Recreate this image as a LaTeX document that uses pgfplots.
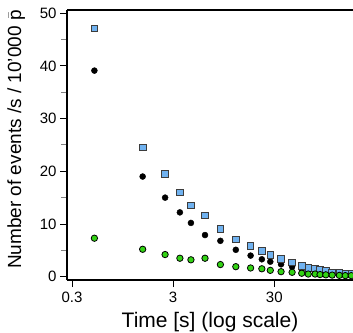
\documentclass[border=0pt]{standalone}
\usepackage{pgfplots}
\pgfplotsset{compat=1.18}
\usepackage{pgfplotstable}
\usepackage{fontspec}
\setmainfont{Liberation Sans}
\definecolor{sqblue}{RGB}{112,178,240}
\definecolor{dotgreen}{RGB}{50,210,20}
\definecolor{edgegray}{RGB}{60,60,60}
\pgfplotstableread{
x blue black green gerr
0.5 47.1 39.1 7.3 0.5
1.5 24.5 19.0 5.2 0.5
2.5 19.5 15.0 4.2 0.5
3.5 16.0 12.2 3.5 0.5
4.5 13.5 10.2 3.2 0.4
6.2 11.6 7.9 3.5 0.4
8.8 9.1 6.8 2.3 0.3
12.5 7.1 5.1 1.9 0.3
17.5 5.8 4.0 1.65 0.3
22.6 4.9 3.3 1.5 0.3
27.4 4.1 2.85 1.2 0.3
35 3.4 2.35 0.95 0.3
45 2.7 1.9 0.83 0.3
56 2.0 1.4 0.65 0.3
65 1.7 1.2 0.5 0.3
76 1.6 1.1 0.5 0.3
85 1.3 0.9 0.4 0.3
97 1.2 0.85 0.35 0.3
112 0.8 0.6 0.3 0.3
132 0.7 0.5 0.25 0.3
151 0.6 0.45 0.2 0.3
173 0.5 0.4 0.2 0.3
}\datatable
\begin{document}
\begin{tikzpicture}
\begin{axis}[
  name=ax,
  at={(0,0)}, anchor=south west,
  scale only axis,
  width=286pt, height=270pt,
  xmode=log,
  xmin=0.268, xmax=180,
  ymin=-0.63, ymax=50.6,
  axis x line*=bottom, axis y line*=left,
  axis line style={-, line width=1.4pt},
  xtick={0.3,3,30}, xticklabels={0.3,3,30},
  xminorticks=false,
  ytick={0,10,20,30,40,50},
  minor y tick num=1,
  tick align=outside,
  major tick length=7pt, minor tick length=6pt,
  major tick style={black, line width=0.9pt},
  minor tick style={gray, line width=0.9pt},
  /pgf/number format/assume math mode=true,
  tick label style={font=\fontsize{15}{18}\selectfont},
  xticklabel style={yshift=-1pt},
  xlabel={Time [s] (log scale)},
  ylabel={Number of events /s / 10'000 $\bar{\mathrm{p}}$},
  ylabel style={font=\fontsize{19}{23}\selectfont, at={(axis description cs:-0.178,0.52)}, anchor=center},
  xlabel style={font=\fontsize{21}{25}\selectfont, at={(axis description cs:0.5,-0.105)}, anchor=north},
]
\addplot[only marks, mark=*, mark size=3pt, black] table[x=x, y=black] {\datatable};
\addplot[only marks, mark=square*, mark size=3.3pt, mark options={fill=sqblue, draw=edgegray, line width=0.8pt}] table[x=x, y=blue] {\datatable};
\addplot[only marks, mark=*, mark size=3.2pt, mark options={fill=dotgreen, draw=black, line width=0.8pt},
  error bars/.cd, y dir=both, y explicit, error bar style={black, line width=0.8pt}, error mark=none]
  table[x=x, y=green, y error=gerr] {\datatable};
\end{axis}
\draw[line width=1.4pt] (ax.north west) -- (ax.north east);
\pgfresetboundingbox
\path[use as bounding box] (-67pt,-52pt) rectangle (286pt,280pt);
\end{tikzpicture}
\end{document}
